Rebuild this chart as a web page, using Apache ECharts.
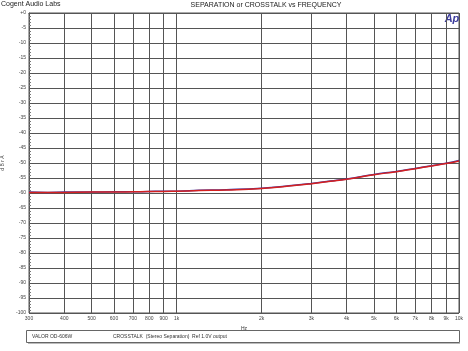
<!DOCTYPE html>
<html><head><meta charset="utf-8">
<script src="https://cdn.jsdelivr.net/npm/echarts@6/dist/echarts.min.js"></script>
<style>html,body{margin:0;padding:0;background:#fff}#c{width:468px;height:351px}</style>
</head><body><div id="c"></div>
<script>
const freqs = [300, 350, 400, 500, 600, 700, 800, 900, 1000, 1200, 1500, 2000, 2500, 3000, 3500, 4000, 5000, 6000, 7000, 8000, 9000, 10000];
const redVals = [-59.8, -59.8, -59.8, -59.7, -59.7, -59.6, -59.5, -59.5, -59.4, -59.2, -59.0, -58.5, -57.7, -56.9, -56.1, -55.4, -53.9, -52.9, -51.9, -51.0, -50.2, -49.3];
const blueVals = [-59.7, -59.8, -59.7, -59.7, -59.6, -59.6, -59.5, -59.4, -59.4, -59.1, -58.9, -58.4, -57.6, -56.8, -56.0, -55.3, -53.8, -52.8, -51.8, -50.9, -50.1, -49.2];
const xTicks = [300, 400, 500, 600, 700, 800, 900, 1000, 2000, 3000, 4000, 5000, 6000, 7000, 8000, 9000, 10000];
const xTickLabels = ['300', '400', '500', '600', '700', '800', '900', '1k', '2k', '3k', '4k', '5k', '6k', '7k', '8k', '9k', '10k'];
const yMin = -100, yMax = 0, yStep = 5;

const chart = echarts.init(document.getElementById('c'));
const font = 'Liberation Sans, Arial, sans-serif';
const labelMap = {};
xTicks.forEach((v, i) => labelMap[v] = xTickLabels[i]);

chart.setOption({
  animation: false,
  backgroundColor: '#fff',
  grid: { left: 29, right: 9, top: 13, bottom: 38, containLabel: false, outerBoundsMode: 'none',
    show: true, borderColor: '#555', borderWidth: 1 },
  xAxis: {
    type: 'log', logBase: 10, min: 300, max: 10000,
    name: 'Hz', nameLocation: 'middle', nameGap: 12,
    nameTextStyle: { fontSize: 5, color: '#333', fontFamily: font },
    axisLine: { show: true, lineStyle: { color: '#555' } },
    axisTick: { show: false, customValues: xTicks },
    axisLabel: { customValues: xTicks, fontSize: 5, color: '#444', fontFamily: font, margin: 3,
      formatter: v => labelMap[Math.round(v)] || '' },
    splitLine: { show: true, lineStyle: { color: '#555', width: 1 } },
    minorSplitLine: { show: false }
  },
  yAxis: {
    type: 'value', min: yMin, max: yMax, interval: yStep,
    name: 'd B r A', nameLocation: 'middle', nameGap: 22, nameRotate: 90,
    nameTextStyle: { fontSize: 5, color: '#444', fontFamily: font },
    axisLine: { show: true, lineStyle: { color: '#555' } },
    axisTick: { show: true, inside: true, length: 3, lineStyle: { color: '#555' } },
    minorTick: { show: true, splitNumber: 5, length: 2, lineStyle: { color: '#777' } },
    axisLabel: { fontSize: 5, color: '#444', fontFamily: font, margin: 3,
      formatter: v => v === 0 ? '+0' : String(v) },
    splitLine: { show: true, lineStyle: { color: '#555', width: 1 } }
  },
  series: [
    { type: 'line', data: freqs.map((f, i) => [f, blueVals[i]]), showSymbol: false, smooth: true,
      lineStyle: { color: '#3a3aa8', width: 1.5 }, z: 3 },
    { type: 'line', data: freqs.map((f, i) => [f, redVals[i]]), showSymbol: false, smooth: true,
      lineStyle: { color: '#d42020', width: 1.5 }, z: 4 }
  ],
  graphic: [
    { type: 'text', left: 1, top: 1, style: { text: 'Cogent Audio Labs', fontSize: 7, fill: '#222', fontFamily: font } },
    { type: 'text', x: 266, y: 5, style: { text: 'SEPARATION or CROSSTALK vs FREQUENCY', fontSize: 7, fill: '#222', fontFamily: font, align: 'center', verticalAlign: 'middle' } },
    { type: 'text', x: 452, y: 19, style: { text: 'Ap', fontSize: 11, fontWeight: 'bold', fontStyle: 'italic', fill: '#3b3b9c', fontFamily: font, align: 'center', verticalAlign: 'middle' } },
    { type: 'rect', shape: { x: 26.5, y: 330.5, width: 433, height: 12 }, style: { fill: '#fff', stroke: '#666', lineWidth: 1 } },
    { type: 'line', shape: { x1: 28, y1: 343.5, x2: 460, y2: 343.5 }, style: { stroke: '#bbb', lineWidth: 1 } },
    { type: 'text', x: 32, y: 336.5, style: { text: 'VALOR OD-606W', fontSize: 5, fill: '#333', fontFamily: font, verticalAlign: 'middle' } },
    { type: 'text', x: 113, y: 336.5, style: { text: 'CROSSTALK  (Stereo Separation)  Ref 1.0V output', fontSize: 5, fill: '#333', fontFamily: font, verticalAlign: 'middle' } }
  ]
});
</script></body></html>
